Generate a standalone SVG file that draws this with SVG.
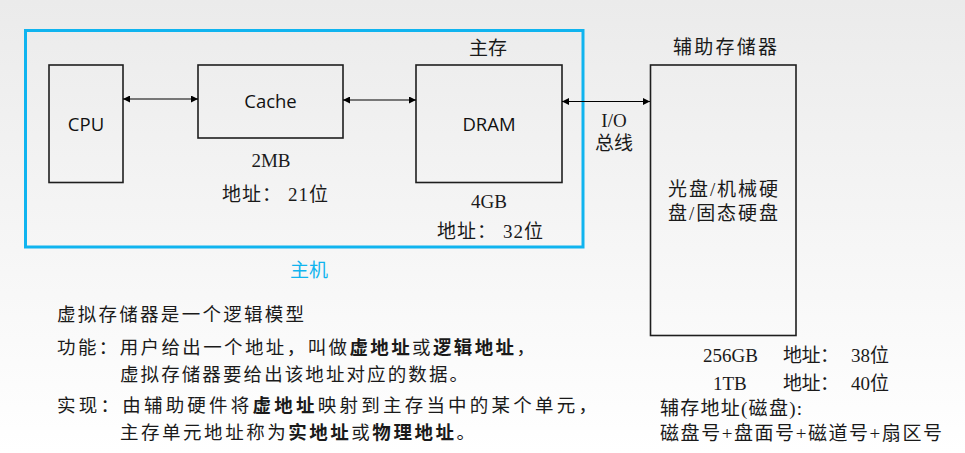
<svg xmlns="http://www.w3.org/2000/svg" width="965" height="453" viewBox="0 0 965 453">
<defs>
<linearGradient id="bg" x1="0" y1="0" x2="0" y2="1">
<stop offset="0" stop-color="#ebebeb"/>
<stop offset="1" stop-color="#ffffff"/>
</linearGradient>
<marker id="ah" viewBox="0 0 10 10" refX="10" refY="5" markerWidth="8" markerHeight="7" markerUnits="userSpaceOnUse" orient="auto-start-reverse">
<path d="M0,0 L10,5 L0,10 z" fill="#000"/>
</marker>
<style>
.box{fill:none;stroke:#1e1e1e;stroke-width:1.6}
.host{fill:none;stroke:#10b4ef;stroke-width:3}
.conn{stroke:#000;stroke-width:1.1;fill:none;marker-start:url(#ah);marker-end:url(#ah)}
.lat{font-family:"Open Sans","Liberation Sans",sans-serif;font-size:18.5px;fill:#111;text-anchor:middle}
.cjk{font-family:"Liberation Serif","Noto Sans CJK SC",serif;font-size:19px;fill:#1a1a1a}
.mid{text-anchor:middle}
.txt{font-family:"Noto Sans CJK SC",sans-serif;font-size:18.5px;fill:#1a1a1a}
.b{font-weight:bold}
</style>
</defs>
<rect x="0" y="0" width="965" height="453" fill="url(#bg)"/>

<g id="host">
<rect class="host" x="25.5" y="30.5" width="557.5" height="216.5"/>
<text class="cjk mid" x="309" y="277" style="fill:#10b4ef" font-size="20">主机</text>
</g>

<g id="cpu">
<rect class="box" x="49" y="65" width="74" height="117.5"/>
<text class="lat" x="86" y="131">CPU</text>
</g>

<g id="cache">
<rect class="box" x="198" y="65" width="145" height="73"/>
<text class="lat" x="270.5" y="108">Cache</text>
<text class="cjk mid" x="271" y="167">2MB</text>
<text class="cjk" x="222" y="201" textLength="106" lengthAdjust="spacing">地址： 21位</text>
</g>

<g id="dram">
<text class="cjk mid" x="488" y="55" font-size="20">主存</text>
<rect class="box" x="416" y="65" width="146" height="117.5"/>
<text class="lat" x="489" y="131">DRAM</text>
<text class="cjk mid" x="489" y="208">4GB</text>
<text class="cjk" x="437" y="238" textLength="106" lengthAdjust="spacing">地址： 32位</text>
</g>

<g id="aux">
<text class="cjk" x="673" y="54" font-size="20" textLength="104" lengthAdjust="spacing">辅助存储器</text>
<rect class="box" x="650.5" y="65" width="145.5" height="270.5"/>
<text class="cjk" x="668" y="196" font-size="20" textLength="110" lengthAdjust="spacing">光盘/机械硬</text>
<text class="cjk" x="668" y="220" font-size="20" textLength="110" lengthAdjust="spacing">盘/固态硬盘</text>
<text class="cjk" x="703" y="362">256GB</text>
<text class="cjk" x="783" y="362" textLength="56" lengthAdjust="spacing">地址：</text>
<text class="cjk" x="851" y="362">38位</text>
<text class="cjk" x="713" y="390">1TB</text>
<text class="cjk" x="783" y="390" textLength="56" lengthAdjust="spacing">地址：</text>
<text class="cjk" x="851" y="390">40位</text>
<text class="cjk" x="660" y="415" textLength="142" lengthAdjust="spacing">辅存地址(磁盘):</text>
<text class="cjk" x="660" y="440" textLength="282" lengthAdjust="spacing">磁盘号+盘面号+磁道号+扇区号</text>
</g>

<g id="connectors">
<line class="conn" x1="123" y1="99" x2="198" y2="99"/>
<line class="conn" x1="343" y1="100" x2="416" y2="100"/>
<line class="conn" x1="562" y1="101.5" x2="650" y2="101.5"/>
<text class="cjk mid" x="614" y="127">I/O</text>
<text class="cjk mid" x="614" y="150">总线</text>
</g>

<g id="notes">
<text class="txt" x="57" y="321" textLength="247" lengthAdjust="spacing">虚拟存储器是一个逻辑模型</text>
<text class="txt" x="57" y="354" textLength="478" lengthAdjust="spacing">功能：用户给出一个地址，叫做<tspan class="b">虚地址</tspan>或<tspan class="b">逻辑地址</tspan>，</text>
<text class="txt" x="120" y="381" textLength="348" lengthAdjust="spacing">虚拟存储器要给出该地址对应的数据。</text>
<text class="txt" x="57" y="412" textLength="540" lengthAdjust="spacing">实现：由辅助硬件将<tspan class="b">虚地址</tspan>映射到主存当中的某个单元，</text>
<text class="txt" x="120" y="439" textLength="355" lengthAdjust="spacing">主存单元地址称为<tspan class="b">实地址</tspan>或<tspan class="b">物理地址</tspan>。</text>
</g>
</svg>
